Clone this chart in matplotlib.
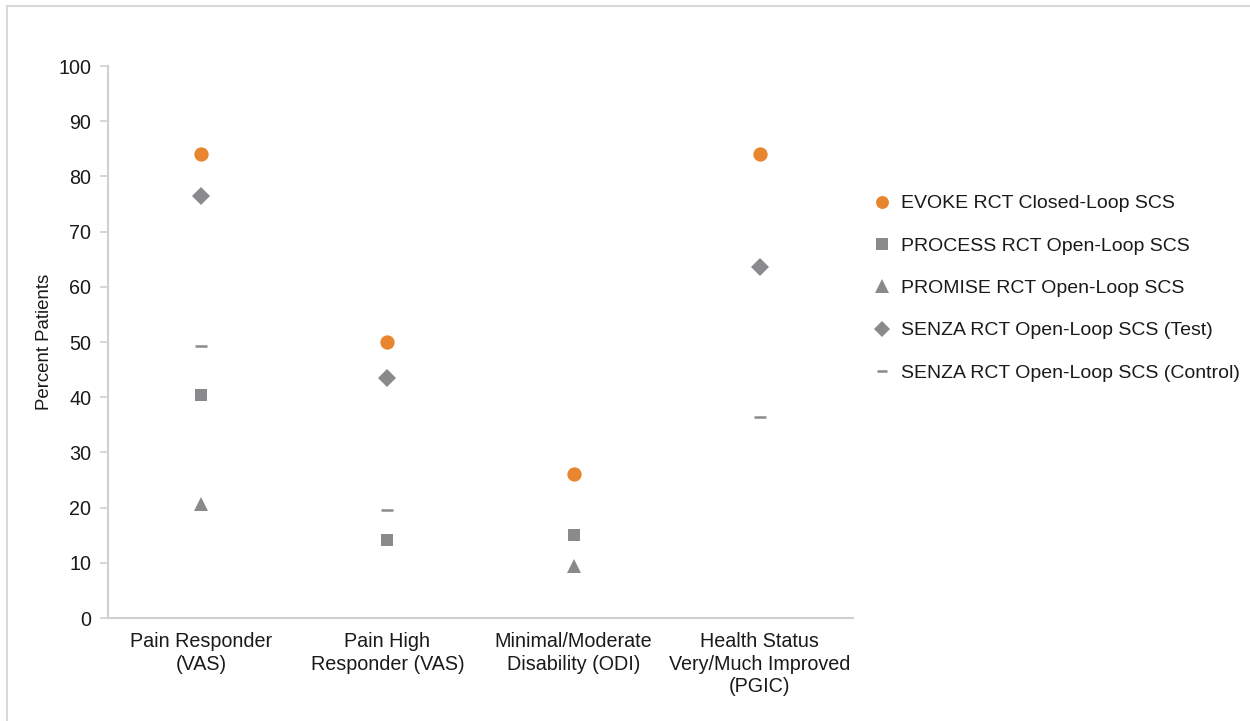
import matplotlib
matplotlib.use("Agg")
import matplotlib.pyplot as plt
from matplotlib.lines import Line2D

plt.rcParams["font.family"] = ["Liberation Sans", "DejaVu Sans"]

categories = [
    "Pain Responder\n(VAS)",
    "Pain High\nResponder (VAS)",
    "Minimal/Moderate\nDisability (ODI)",
    "Health Status\nVery/Much Improved\n(PGIC)",
]

# None = study did not report this outcome
evoke = [84, 50, 26, 84]
process = [40.4, 14.1, 15, None]
promise = [20.7, None, 9.4, None]
senza_test = [76.5, 43.5, None, 63.5]
senza_control = [49.3, 19.6, None, 36.5]

series_labels = [
    "EVOKE RCT Closed-Loop SCS",
    "PROCESS RCT Open-Loop SCS",
    "PROMISE RCT Open-Loop SCS",
    "SENZA RCT Open-Loop SCS (Test)",
    "SENZA RCT Open-Loop SCS (Control)",
]
y_ticks = list(range(0, 101, 10))

ORANGE = "#E8852F"
GREY = "#8A8A8D"
TEXT = "#1A1A1A"
FS = 14.2

fig = plt.figure(figsize=(12.5, 7.21), dpi=100)
ax = fig.add_axes([108 / 1250, 1 - 618 / 721, (853 - 108) / 1250, (618 - 66) / 721])

styles = [
    dict(marker="o", color=ORANGE, ms=10.3),
    dict(marker="s", color=GREY, ms=9.3),
    dict(marker="^", color=GREY, ms=10.5),
    dict(marker="D", color=GREY, ms=8.8),
    dict(marker="_", color=GREY, ms=8.6, mew=1.8),
]
all_series = [evoke, process, promise, senza_test, senza_control]

for vals, st, lab in zip(all_series, styles, series_labels):
    xs = [i for i, v in enumerate(vals) if v is not None]
    ys = [v for v in vals if v is not None]
    ax.plot(xs, ys, linestyle="none", marker=st["marker"], color=st["color"],
            markersize=st["ms"], markeredgewidth=st.get("mew", 0),
            label=lab, zorder=3)

ax.set_xlim(-0.5, 3.5)
ax.set_ylim(0, 100)
ax.set_yticks(y_ticks)
ax.set_xticks(range(len(categories)))
ax.set_xticklabels(categories, fontsize=FS, color=TEXT, linespacing=1.25)
ax.tick_params(axis="x", length=0, pad=10)
ax.tick_params(axis="y", length=6, width=1.2, color="#D0D0D0", pad=6,
               labelsize=FS, labelcolor=TEXT)
for side in ("top", "right"):
    ax.spines[side].set_visible(False)
for side in ("left", "bottom"):
    ax.spines[side].set_color("#D0D0D0")
    ax.spines[side].set_linewidth(1.5)

ax.set_ylabel("Percent Patients", fontsize=13.4, color=TEXT, labelpad=4)

handles, labels = ax.get_legend_handles_labels()
leg = fig.legend(handles, labels, loc="upper left",
                 bbox_to_anchor=(864 / 1250, 1 - 187 / 721),
                 frameon=False, fontsize=14.0, labelspacing=1.27,
                 handlelength=1.0, handletextpad=0.5, borderaxespad=0,
                 markerscale=0.9)
for t in leg.get_texts():
    t.set_color(TEXT)

# chart-area outline (left and top edges)
fig.add_artist(Line2D([7 / 1250, 7 / 1250], [0, 1 - 6 / 721],
                      transform=fig.transFigure, color="#D9D9D9", lw=1.5))
fig.add_artist(Line2D([7 / 1250, 1], [1 - 6 / 721, 1 - 6 / 721],
                      transform=fig.transFigure, color="#D9D9D9", lw=1.5))

fig.savefig("out.png", dpi=100, facecolor="white")
